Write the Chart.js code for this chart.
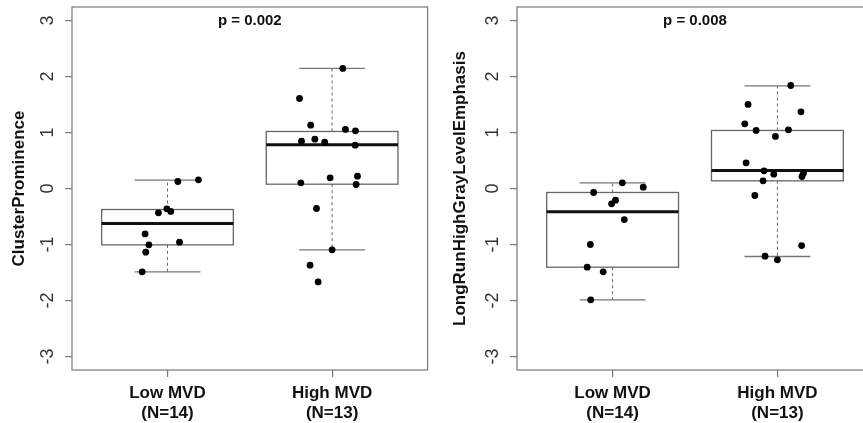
<!DOCTYPE html>
<html>
<head>
<meta charset="utf-8">
<script src="https://cdn.jsdelivr.net/npm/chart.js@4"></script>
<style>
  html, body { margin:0; padding:0; background:#fff; overflow:hidden; width:863px; height:423px; }
  .panel { position:absolute; top:0; }
</style>
</head>
<body>
<div class="panel" style="left:0;width:431px;height:423px"><canvas id="c1" width="431" height="423"></canvas></div>
<div class="panel" style="left:431px;width:460px;height:423px"><canvas id="c2" width="460" height="423"></canvas></div>
<script>
// ---- data ----
const categories = ['Low MVD', 'High MVD'];
const counts = ['(N=14)', '(N=13)'];
const yTickValues = [-3, -2, -1, 0, 1, 2, 3];

// Panel 1: ClusterProminence
const cpTitle = 'ClusterProminence';
const cpP = 'p = 0.002';
const cpWhiskerLow = [-1.488, -1.095];
const cpQ1 = [-1.006, 0.077];
const cpMedian = [-0.625, 0.780];
const cpQ3 = [-0.375, 1.018];
const cpWhiskerHigh = [0.149, 2.143];
const cpLowJitter = [0.063, 0.188, -0.055, -0.004, 0.020, -0.136, -0.113, -0.132, 0.073, -0.154];
const cpLowValues = [0.125, 0.155, -0.435, -0.363, -0.410, -0.810, -1.006, -1.137, -0.958, -1.488];
const cpHighJitter = [0.065, -0.198, -0.130, 0.081, 0.142, -0.186, -0.105, -0.045, 0.140, -0.190, -0.012, 0.154, 0.146, -0.095, 0.000, -0.134, -0.085];
const cpHighValues = [2.143, 1.607, 1.131, 1.054, 1.030, 0.845, 0.881, 0.827, 0.774, 0.101, 0.190, 0.220, 0.071, -0.357, -1.095, -1.369, -1.667];

// Panel 2: LongRunHighGrayLevelEmphasis
const lrTitle = 'LongRunHighGrayLevelEmphasis';
const lrP = 'p = 0.008';
const lrWhiskerLow = [-1.988, -1.214];
const lrQ1 = [-1.405, 0.137];
const lrMedian = [-0.417, 0.321];
const lrQ3 = [-0.071, 1.036];
const lrWhiskerHigh = [0.101, 1.833];
const lrLowJitter = [0.059, 0.186, -0.115, -0.006, 0.018, 0.071, -0.135, -0.154, -0.057, -0.133];
const lrLowValues = [0.101, 0.024, -0.071, -0.274, -0.208, -0.554, -1.000, -1.405, -1.488, -1.988];
const lrHighJitter = [0.081, -0.178, 0.143, -0.198, -0.129, -0.012, 0.067, -0.190, -0.081, -0.022, -0.087, 0.149, 0.158, -0.137, 0.147, -0.075, 0.000];
const lrHighValues = [1.839, 1.500, 1.369, 1.155, 1.036, 0.929, 1.048, 0.458, 0.315, 0.256, 0.137, 0.214, 0.274, -0.125, -1.018, -1.208, -1.274];

// ---- drawing ----
const FONT = "'Liberation Sans', Arial, Helvetica, sans-serif";

function boxPlugin(stats, pText) {
  return {
    id: 'boxes',
    beforeDatasetsDraw(chart) {
      const ctx = chart.ctx, xs = chart.scales.x, ys = chart.scales.y;
      ctx.save();
      stats.q1.forEach((_, i) => {
        const c = i + 1;
        const xl = xs.getPixelForValue(c - 0.4), xr = xs.getPixelForValue(c + 0.4);
        const cl = xs.getPixelForValue(c - 0.2), cr = xs.getPixelForValue(c + 0.2);
        const xc = xs.getPixelForValue(c);
        const yq1 = ys.getPixelForValue(stats.q1[i]), yq3 = ys.getPixelForValue(stats.q3[i]);
        const ymed = ys.getPixelForValue(stats.med[i]);
        const ylo = ys.getPixelForValue(stats.lo[i]), yhi = ys.getPixelForValue(stats.hi[i]);
        ctx.strokeStyle = '#666'; ctx.lineWidth = 1;
        ctx.setLineDash([3, 3]);
        ctx.beginPath();
        ctx.moveTo(xc, yq3); ctx.lineTo(xc, yhi);
        ctx.moveTo(xc, yq1); ctx.lineTo(xc, ylo);
        ctx.stroke();
        ctx.setLineDash([]);
        ctx.lineWidth = 1.3; ctx.strokeStyle = '#777';
        ctx.beginPath();
        ctx.moveTo(cl, yhi); ctx.lineTo(cr, yhi);
        ctx.moveTo(cl, ylo); ctx.lineTo(cr, ylo);
        ctx.stroke();
        ctx.strokeStyle = '#666'; ctx.lineWidth = 1.3;
        ctx.strokeRect(xl, yq3, xr - xl, yq1 - yq3);
        ctx.strokeStyle = '#111'; ctx.lineWidth = 3;
        ctx.beginPath(); ctx.moveTo(xl, ymed); ctx.lineTo(xr, ymed); ctx.stroke();
      });
      ctx.restore();
    },
    afterDraw(chart) {
      const ctx = chart.ctx, ys = chart.scales.y, a = chart.chartArea;
      ctx.save();
      ctx.strokeStyle = '#777'; ctx.lineWidth = 1.2;
      ctx.strokeRect(a.left, a.top, a.right - a.left, a.bottom - a.top);
      ctx.fillStyle = '#333';
      ctx.font = '18px ' + FONT;
      ctx.textAlign = 'center'; ctx.textBaseline = 'middle';
      ys.ticks.forEach(t => {
        const y = ys.getPixelForValue(t.value);
        ctx.save();
        ctx.translate(a.left - 24, y);
        ctx.rotate(-Math.PI / 2);
        ctx.fillText(String(t.value), 0, 0);
        ctx.restore();
      });
      ctx.fillStyle = '#111';
      ctx.font = 'bold 15px ' + FONT;
      ctx.fillText(pText, (a.left + a.right) / 2, ys.getPixelForValue(3));
      ctx.restore();
    }
  };
}

function makeChart(id, title, pText, stats, lowJ, lowV, highJ, highV, yWidth, titlePad, padRight) {
  const pts = [];
  lowV.forEach((v, i) => pts.push({x: 1 + lowJ[i], y: v}));
  highV.forEach((v, i) => pts.push({x: 2 + highJ[i], y: v}));
  return new Chart(document.getElementById(id), {
    type: 'scatter',
    data: { datasets: [{ data: pts, backgroundColor: '#000', borderColor: '#000', pointRadius: 3.4, pointHoverRadius: 3.4, borderWidth: 0 }] },
    options: {
      responsive: false, animation: false,
      layout: { padding: { top: 7, right: padRight, left: 0, bottom: 0 } },
      plugins: { legend: { display: false }, tooltip: { enabled: false } },
      scales: {
        x: {
          type: 'linear', min: 0.42, max: 2.58,
          afterBuildTicks(s) { s.ticks = categories.map((_, i) => ({ value: i + 1 })); },
          afterFit(s) { s.height = 53; },
          grid: { display: true, drawOnChartArea: false, drawTicks: true, tickLength: 7, color: '#777', lineWidth: 1.2 },
          border: { display: false },
          ticks: {
            autoSkip: false, maxRotation: 0, minRotation: 0, padding: 6,
            color: '#111', font: { family: FONT, size: 17, weight: 'bold' },
            callback: (v, i) => [categories[i], counts[i]]
          }
        },
        y: {
          type: 'linear', min: -3.24, max: 3.24,
          afterBuildTicks(s) { s.ticks = yTickValues.map(v => ({ value: v })); },
          afterFit(s) { s.width = yWidth; },
          grid: { display: true, drawOnChartArea: false, drawTicks: true, tickLength: 7, color: '#777', lineWidth: 1.2 },
          border: { display: false },
          ticks: { display: false },
          title: { display: true, text: title, color: '#111', font: { family: FONT, size: 17, weight: 'bold' }, padding: { top: titlePad, bottom: 0 } }
        }
      }
    },
    plugins: [boxPlugin(stats, pText)]
  });
}

makeChart('c1', cpTitle, cpP,
  { lo: cpWhiskerLow, q1: cpQ1, med: cpMedian, q3: cpQ3, hi: cpWhiskerHigh },
  cpLowJitter, cpLowValues, cpHighJitter, cpHighValues, 72, 9, 3);
makeChart('c2', lrTitle, lrP,
  { lo: lrWhiskerLow, q1: lrQ1, med: lrMedian, q3: lrQ3, hi: lrWhiskerHigh },
  lrLowJitter, lrLowValues, lrHighJitter, lrHighValues, 86, 19, 18);
</script>
</body>
</html>
